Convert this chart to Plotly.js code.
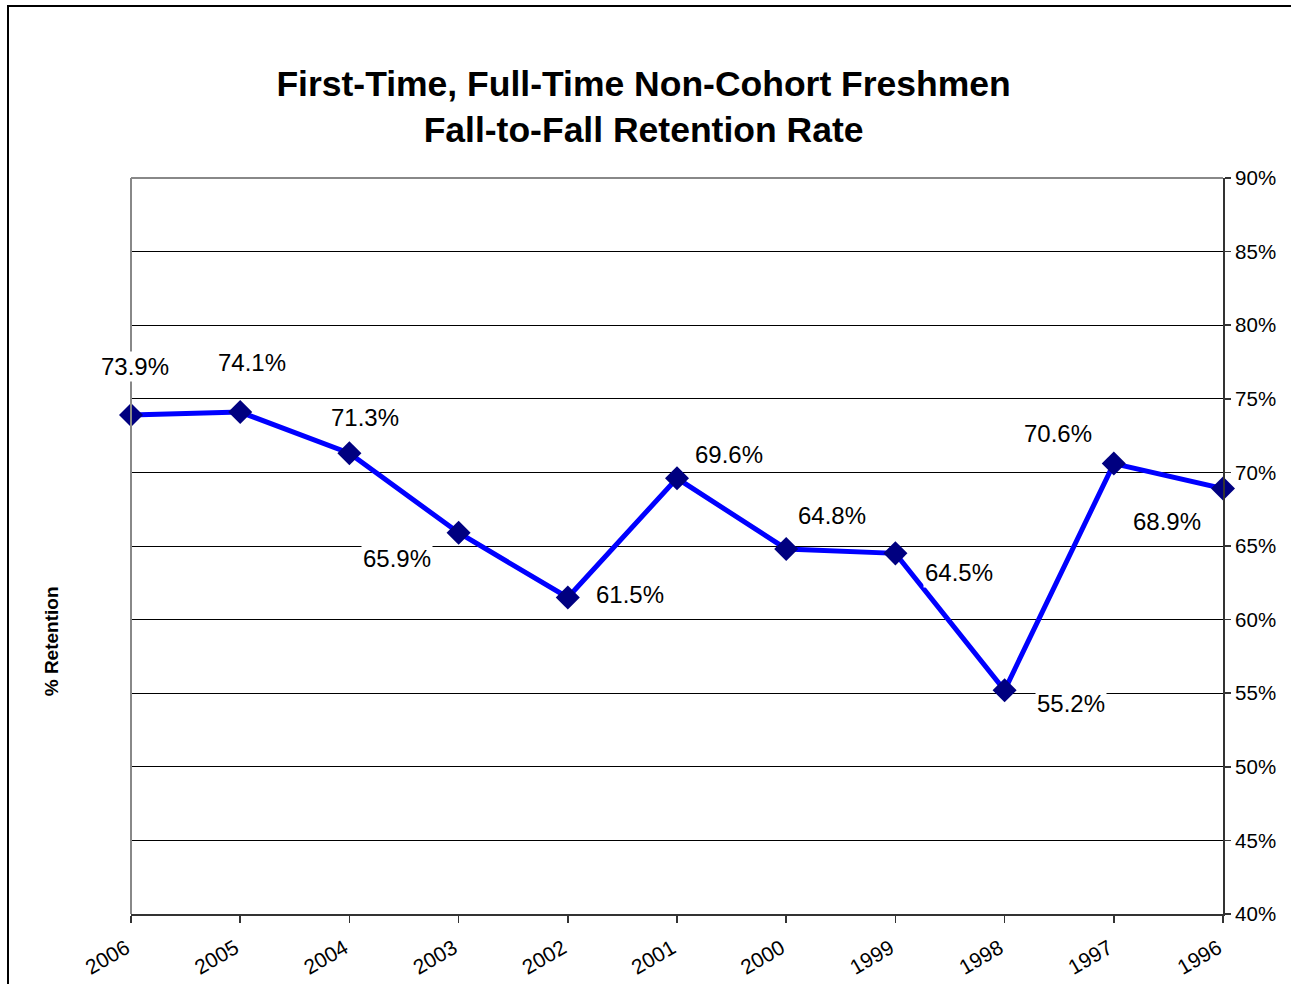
<!DOCTYPE html>
<html>
<head>
<meta charset="utf-8">
<script src="https://cdn.plot.ly/plotly-3.0.1.min.js"></script>
<style>
  html, body { margin: 0; padding: 0; background: #fff; }
  #chart { width: 1291px; height: 984px; }
  #frame { position: absolute; left: 7px; top: 5px; width: 1400px; height: 1100px; border: 2px solid #000; pointer-events: none; }
</style>
</head>
<body>
<div id="chart"></div>
<div id="frame"></div>
<script>
const years = ['2006','2005','2004','2003','2002','2001','2000','1999','1998','1997','1996'];
const retention = [73.9, 74.1, 71.3, 65.9, 61.5, 69.6, 64.8, 64.5, 55.2, 70.6, 68.9];
const labelShiftX = [4, 12, 16, -62, 62, 52, 46, 64, 66, -56, -56];
const labelShiftY = [48, 50, 36, -26, 3, 24, 33, -19, -13, 30, -33];

const font = '"Liberation Sans", Arial, sans-serif';

const annotations = years.map((y, i) => ({
  x: i, y: retention[i], xref: 'x', yref: 'y',
  text: retention[i].toFixed(1) + '%',
  showarrow: false,
  xshift: labelShiftX[i], yshift: labelShiftY[i],
  bgcolor: '#ffffff',
  font: { family: font, size: 24, color: '#000' }
}));
annotations.push({
  xref: 'paper', yref: 'paper', x: -0.0727, y: 0.37, xanchor: 'center', yanchor: 'middle',
  text: '<b>% Retention</b>', textangle: -90, showarrow: false,
  font: { family: font, size: 19, color: '#000' }
});

const trace = {
  x: years.map((_, i) => i),
  y: retention,
  type: 'scatter',
  mode: 'lines+markers',
  line: { color: '#0000ff', width: 5 },
  marker: { symbol: 'diamond', size: 18.5, color: '#000080', line: { width: 0 } },
  hoverinfo: 'skip',
  cliponaxis: false
};

const layout = {
  width: 1291, height: 984,
  margin: { l: 131, r: 68, t: 178, b: 70 },
  paper_bgcolor: '#fff', plot_bgcolor: '#fff',
  showlegend: false,
  title: {
    text: '<b>First-Time, Full-Time Non-Cohort Freshmen<br>Fall-to-Fall Retention Rate</b>',
    x: 0.4985, xref: 'container', xanchor: 'center', y: 0.9027, yref: 'container', yanchor: 'middle',
    font: { family: font, size: 35.5, color: '#000' }
  },
  xaxis: {
    range: [0, 10], tickmode: 'array', tickvals: years.map((_, i) => i), ticktext: years,
    tickangle: -30, ticks: 'outside', ticklen: 7, tickcolor: '#333', tickwidth: 1.5,
    ticklabelshift: -5, ticklabelstandoff: 5,
    showline: true, linecolor: '#333', linewidth: 2,
    showgrid: false, zeroline: false,
    tickfont: { family: font, size: 21, color: '#000' }
  },
  yaxis: {
    range: [40, 90], dtick: 5, side: 'right', ticksuffix: '%',
    ticks: 'outside', ticklen: 6, tickcolor: '#333', tickwidth: 1.5,
    showline: true, linecolor: '#333', linewidth: 2,
    showgrid: true, gridcolor: '#000', gridwidth: 1, zeroline: false,
    tickfont: { family: font, size: 20.5, color: '#000' }
  },
  shapes: [
    { type: 'line', xref: 'paper', yref: 'paper', x0: 0, x1: 0, y0: 0, y1: 1, line: { color: '#888', width: 2 } },
    { type: 'line', xref: 'paper', yref: 'paper', x0: 0, x1: 1, y0: 1, y1: 1, line: { color: '#888', width: 2 } }
  ],
  annotations: annotations
};

Plotly.newPlot('chart', [trace], layout, { staticPlot: true });
</script>
</body>
</html>
